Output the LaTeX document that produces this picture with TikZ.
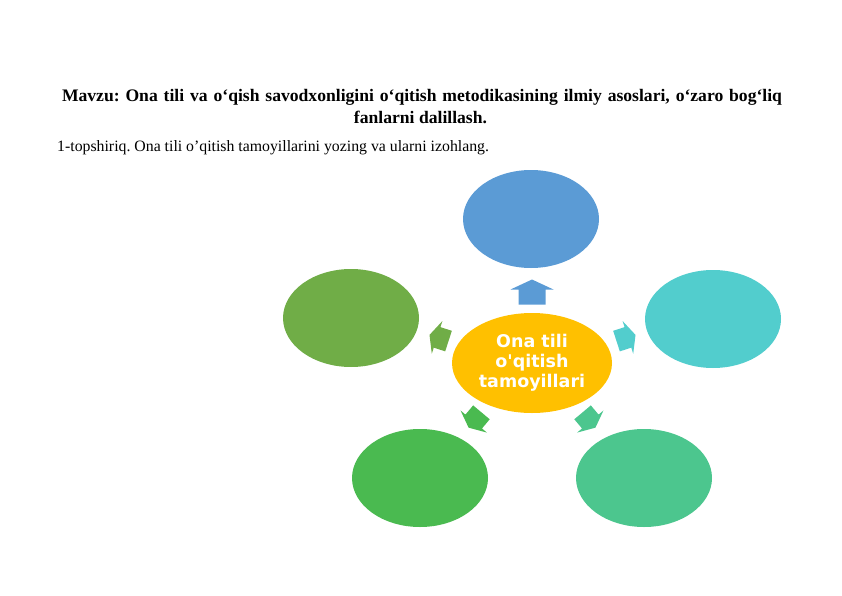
\documentclass[tikz,border=0pt]{standalone}
\usepackage{fontspec}
\setmainfont{Liberation Serif}
\newfontfamily\ovalfont{DejaVu Sans}
\usetikzlibrary{shapes.geometric}
\frenchspacing

\definecolor{centreorange}{RGB}{255,192,0}
\definecolor{topblue}{RGB}{91,155,213}
\definecolor{rightteal}{RGB}{82,205,205}
\definecolor{brgreen}{RGB}{76,198,142}
\definecolor{blgreen}{RGB}{74,186,80}
\definecolor{leftgreen}{RGB}{112,173,71}

\tikzset{oval/.style={ellipse, inner sep=0pt, minimum width=136pt, minimum height=98pt}}

\begin{document}
\begin{tikzpicture}[x=1pt,y=-1pt]
		\useasboundingbox (0,0) rectangle (842,596);
		\node[anchor=base,inner sep=0pt](title) at (422,101.7) {\fontsize{17.6}{20}\selectfont\bfseries\makebox[720pt][s]{Mavzu: Ona tili va o‘qish savodxonligini o‘qitish metodikasining ilmiy asoslari, o‘zaro bog‘liq}};
		\node[anchor=base,inner sep=0pt](title2) at (420.5,123.3) {\fontsize{17.6}{20}\selectfont\bfseries fanlarni dalillash.};
		\node[anchor=base west,inner sep=0pt](task) at (57,151.7) {\fontsize{15.8}{19}\selectfont 1-topshiriq. Ona tili o’qitish tamoyillarini yozing va ularni izohlang.};
		\node[oval,fill=centreorange,minimum width=160pt,minimum height=100pt,align=center,text=white,font=\ovalfont\bfseries\fontsize{17.5}{20}\selectfont](centre) at (532,363) {Ona tili\\o'qitish\\tamoyillari};
		\node[oval,fill=topblue](top) at (531,219) {};
		\node[oval,fill=rightteal](right) at (713,319) {};
		\node[oval,fill=brgreen](botright) at (644,478) {};
		\node[oval,fill=blgreen](botleft) at (420,478) {};
		\node[oval,fill=leftgreen](left) at (351,318) {};
		\fill[topblue,shift={(532,292)},rotate=90] (-12.5,-13.5) -- (2.5,-13.5) -- (2.5,-21.5) -- (12.5,0) -- (2.5,21.5) -- (2.5,13.5) -- (-12.5,13.5) -- cycle;
		\fill[rightteal,shift={(626,338)},rotate=18,scale=0.8] (-12.5,-13.5) -- (2.5,-13.5) -- (2.5,-21.5) -- (12.5,0) -- (2.5,21.5) -- (2.5,13.5) -- (-12.5,13.5) -- cycle;
		\fill[brgreen,shift={(589,420)},rotate=-50,scale=0.8] (-12.5,-13.5) -- (2.5,-13.5) -- (2.5,-21.5) -- (12.5,0) -- (2.5,21.5) -- (2.5,13.5) -- (-12.5,13.5) -- cycle;
		\fill[blgreen,shift={(475,420)},rotate=-130,scale=0.8] (-12.5,-13.5) -- (2.5,-13.5) -- (2.5,-21.5) -- (12.5,0) -- (2.5,21.5) -- (2.5,13.5) -- (-12.5,13.5) -- cycle;
		\fill[leftgreen,shift={(439,338)},rotate=162,scale=0.8] (-12.5,-13.5) -- (2.5,-13.5) -- (2.5,-21.5) -- (12.5,0) -- (2.5,21.5) -- (2.5,13.5) -- (-12.5,13.5) -- cycle;
	\end{tikzpicture}
\end{document}
